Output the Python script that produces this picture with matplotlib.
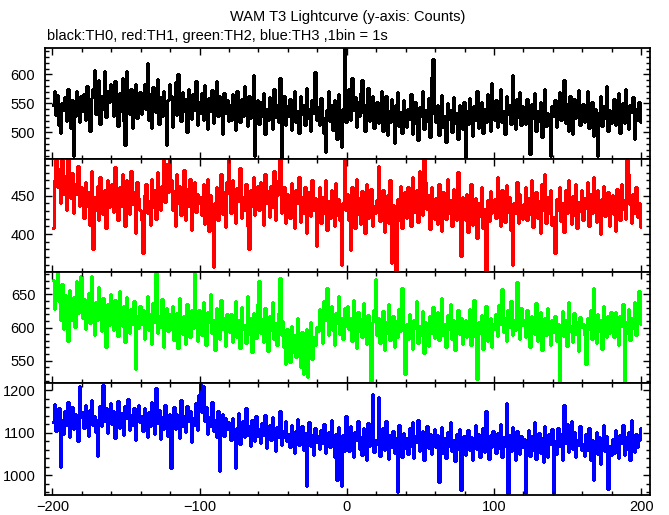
import numpy as np
import matplotlib
matplotlib.use("Agg")
import matplotlib.pyplot as plt
from matplotlib.ticker import MultipleLocator

plt.rcParams['font.family'] = ['Liberation Sans', 'DejaVu Sans']

title = "WAM T3 Lightcurve (y-axis: Counts)"
subtitle = "black:TH0, red:TH1, green:TH2, blue:TH3 ,1bin = 1s"

time_start = -200   # first bin (s)
bin_width = 1       # 1 bin = 1 s

th0 = [
    548, 572, 530, 565, 512, 498, 550, 538, 561, 520, 575, 533, 508, 556, 460, 529, 571, 544, 518, 562,
    537, 566, 521, 580, 545, 503, 559, 574, 607, 532, 548, 590, 515, 562, 540, 605, 527, 571, 553, 584,
    560, 529, 588, 542, 511, 567, 536, 594, 520, 478, 605, 548, 531, 575, 507, 556, 583, 524, 549, 570,
    531, 558, 584, 540, 619, 522, 566, 508, 579, 547, 535, 592, 514, 561, 528, 571, 545, 478, 556, 583,
    562, 509, 548, 586, 530, 600, 541, 519, 570, 536, 557, 501, 575, 544, 523, 566, 538, 589, 512, 553,
    534, 567, 522, 581, 546, 505, 559, 537, 573, 516, 550, 588, 529, 562, 541, 497, 568, 533, 555, 519,
    548, 521, 566, 535, 504, 572, 543, 517, 558, 529, 580, 538, 511, 563, 524, 551, 599, 460, 532, 556,
    515, 553, 529, 568, 497, 540, 522, 561, 534, 506, 575, 527, 548, 518, 593, 457, 539, 563, 512, 546,
    529, 557, 504, 542, 571, 518, 536, 499, 563, 531, 548, 513, 577, 524, 540, 502, 555, 533, 604, 521,
    543, 512, 560, 527, 498, 466, 538, 571, 519, 547, 504, 556, 530, 489, 566, 523, 475, 541, 655, 518,
    548, 575, 522, 594, 539, 561, 510, 553, 528, 567, 590, 534, 502, 549, 576, 519, 545, 563, 508, 537,
    553, 516, 540, 571, 503, 529, 562, 495, 537, 518, 558, 526, 482, 547, 569, 511, 535, 498, 556, 524,
    509, 541, 523, 566, 497, 535, 552, 514, 486, 543, 528, 571, 505, 538, 519, 560, 492, 595, 626, 532,
    518, 547, 496, 532, 565, 510, 528, 484, 551, 523, 539, 500, 561, 516, 533, 489, 548, 527, 506, 553,
    455, 537, 515, 560, 528, 493, 546, 521, 572, 508, 534, 552, 499, 541, 517, 566, 526, 503, 585, 539,
    522, 556, 509, 543, 574, 518, 536, 497, 562, 531, 548, 514, 599, 540, 506, 558, 527, 570, 512, 545,
    541, 515, 557, 530, 462, 549, 524, 568, 503, 536, 519, 553, 492, 540, 575, 511, 533, 521, 460, 546,
    528, 555, 510, 547, 569, 521, 538, 590, 516, 549, 503, 562, 532, 497, 558, 525, 544, 573, 512, 536,
    549, 518, 536, 571, 507, 528, 553, 494, 541, 520, 460, 534, 562, 511, 546, 525, 580, 502, 538, 516,
    533, 558, 512, 541, 567, 498, 529, 550, 516, 574, 526, 505, 547, 535, 561, 489, 540, 522, 553, 518,
]

th1 = [
    408, 470, 497, 462, 485, 440, 497, 452, 476, 431, 498, 459, 447, 480, 428, 466, 452, 489, 437, 461,
    445, 421, 468, 437, 455, 412, 482, 380, 449, 431, 463, 418, 474, 440, 426, 457, 408, 470, 436, 452,
    466, 429, 487, 443, 418, 461, 437, 478, 452, 410, 470, 445, 426, 483, 439, 455, 402, 468, 447, 432,
    418, 375, 451, 466, 428, 443, 412, 472, 436, 457, 420, 481, 445, 431, 463, 497, 442, 492, 455, 498,
    470, 432, 456, 411, 478, 441, 463, 425, 449, 484, 418, 459, 437, 472, 405, 446, 468, 429, 453, 440,
    448, 425, 466, 413, 439, 472, 404, 451, 430, 357, 441, 462, 419, 447, 478, 426, 455, 409, 468, 497,
    452, 427, 471, 438, 415, 460, 443, 486, 421, 449, 432, 466, 410, 380, 458, 437, 474, 425, 446, 463,
    431, 468, 447, 412, 479, 440, 456, 423, 463, 435, 482, 418, 451, 470, 497, 428, 444, 461, 415, 452,
    446, 421, 467, 433, 408, 458, 440, 475, 416, 449, 427, 462, 402, 438, 455, 424, 470, 431, 447, 385,
    438, 462, 414, 449, 427, 471, 405, 443, 421, 458, 433, 410, 467, 425, 446, 419, 360, 440, 497, 431,
    452, 418, 379, 461, 435, 408, 472, 426, 447, 413, 456, 431, 402, 466, 421, 441, 459, 411, 437, 428,
    444, 489, 417, 435, 458, 403, 429, 451, 414, 470, 362, 438, 425, 352, 446, 419, 463, 408, 432, 455,
    421, 462, 437, 411, 475, 446, 429, 458, 416, 483, 440, 425, 499, 468, 433, 451, 407, 462, 438, 420,
    447, 413, 466, 431, 404, 455, 438, 420, 472, 428, 444, 410, 459, 436, 418, 481, 425, 372, 449, 433,
    419, 452, 403, 437, 466, 412, 428, 447, 395, 440, 424, 461, 408, 433, 350, 445, 417, 456, 427, 438,
    446, 421, 475, 433, 410, 458, 437, 416, 464, 429, 449, 405, 360, 441, 427, 468, 414, 452, 433, 420,
    439, 462, 418, 447, 426, 471, 409, 435, 455, 421, 443, 401, 466, 431, 478, 415, 448, 428, 457, 412,
    423, 375, 446, 432, 461, 417, 440, 403, 457, 428, 471, 436, 413, 450, 425, 466, 408, 442, 430, 458,
    419, 447, 434, 468, 410, 452, 428, 475, 439, 416, 458, 431, 400, 446, 463, 424, 441, 455, 411, 437,
    451, 426, 404, 459, 437, 418, 466, 433, 445, 420, 497, 478, 439, 414, 452, 428, 461, 422, 440, 409,
]

th2 = [
    672, 628, 655, 684, 640, 611, 666, 598, 649, 625, 580, 657, 634, 612, 646, 601, 670, 622, 639, 677,
    615, 643, 598, 626, 652, 607, 677, 620, 589, 638, 611, 661, 629, 594, 645, 618, 571, 636, 604, 650,
    624, 596, 641, 612, 587, 655, 619, 603, 633, 578, 646, 611, 592, 628, 606, 640, 538, 617, 599, 632,
    605, 626, 583, 614, 647, 596, 620, 575, 637, 609, 682, 591, 618, 601, 643, 570, 612, 629, 594, 621,
    598, 633, 581, 610, 622, 569, 644, 603, 590, 618, 575, 635, 607, 586, 626, 599, 682, 612, 580, 627,
    616, 589, 638, 601, 574, 623, 608, 650, 592, 611, 566, 629, 604, 583, 641, 597, 615, 572, 620, 606,
    593, 621, 578, 607, 640, 585, 612, 569, 631, 598, 604, 576, 647, 590, 615, 563, 622, 600, 584, 636,
    670, 592, 613, 578, 629, 601, 565, 618, 596, 639, 583, 607, 574, 622, 675, 588, 610, 571, 545, 598,
    576, 548, 602, 563, 589, 555, 614, 571, 540, 593, 530, 580, 597, 525, 568, 609, 552, 586, 574, 601,
    595, 628, 604, 577, 640, 611, 660, 589, 618, 633, 596, 574, 622, 607, 648, 590, 615, 583, 629, 602,
    632, 598, 615, 580, 641, 607, 569, 623, 594, 613, 586, 637, 601, 575, 619, 590, 520, 608, 626, 673,
    589, 614, 577, 603, 625, 566, 608, 592, 635, 581, 599, 617, 570, 610, 586, 628, 594, 660, 603, 530,
    606, 583, 621, 594, 568, 612, 599, 640, 577, 603, 588, 625, 561, 609, 596, 572, 618, 591, 631, 584,
    597, 623, 581, 610, 644, 589, 606, 570, 619, 598, 635, 583, 611, 566, 602, 627, 590, 614, 575, 608,
    612, 585, 603, 628, 574, 595, 641, 586, 522, 609, 592, 619, 568, 601, 633, 580, 597, 614, 571, 605,
    598, 621, 587, 634, 606, 658, 593, 615, 579, 627, 601, 640, 588, 612, 596, 668, 619, 583, 630, 604,
    611, 585, 626, 597, 571, 618, 604, 590, 637, 579, 608, 623, 566, 600, 615, 588, 629, 594, 574, 612,
    593, 617, 580, 606, 520, 598, 625, 587, 611, 572, 639, 595, 603, 578, 622, 590, 608, 565, 616, 601,
    606, 589, 545, 614, 598, 627, 583, 660, 601, 576, 620, 594, 611, 568, 633, 599, 585, 617, 592, 624,
    610, 586, 623, 599, 574, 617, 603, 635, 520, 609, 592, 628, 581, 614, 600, 639, 588, 621, 655, 606,
]

th3 = [
    1125, 1168, 1104, 1142, 1159, 1020, 1131, 1097, 1150, 1118, 1172, 1089, 1136, 1160, 1108, 1145, 1123, 1080, 1210, 1137,
    1148, 1111, 1165, 1129, 1092, 1153, 1176, 1118, 1140, 1101, 1045, 1133, 1162, 1115, 1212, 1127, 1158, 1099, 1144, 1170,
    1121, 1150, 1087, 1139, 1174, 1110, 1146, 1128, 1095, 1163, 1135, 1180, 1106, 1142, 1117, 1158, 1084, 1137, 1166, 1124,
    1140, 1103, 1157, 1125, 1090, 1148, 1116, 1171, 1131, 1098, 1205, 1122, 1154, 1085, 1138, 1109, 1166, 1127, 1093, 1145,
    1017, 1134, 1160, 1108, 1143, 1122, 1088, 1176, 1115, 1139, 1101, 1163, 1128, 1152, 1079, 1135, 1119, 1170, 1106, 1189,
    1214, 1149, 1210, 1127, 1161, 1098, 1138, 1116, 1172, 1104, 1130, 1090, 1152, 1010, 1121, 1144, 1093, 1135, 1109, 1126,
    1118, 1083, 1135, 1097, 1017, 1112, 1146, 1074, 1103, 1127, 1089, 1158, 1095, 1115, 1068, 1131, 1104, 1081, 1140, 1092,
    1109, 1076, 1123, 1094, 1142, 1065, 1101, 1117, 1083, 1136, 1097, 1058, 1114, 1089, 1150, 1072, 1105, 1091, 1128, 1080,
    1098, 1066, 1119, 1087, 1052, 1104, 1133, 1071, 1093, 1115, 1060, 1100, 974, 1082, 1126, 1069, 1095, 1047, 1110, 1078,
    1092, 1061, 1107, 1075, 1120, 1053, 1088, 1102, 1067, 1131, 1079, 1044, 1098, 990, 1113, 1070, 975, 1094, 1058, 1140,
    1096, 1058, 1115, 1072, 1043, 1101, 1083, 1128, 1062, 1090, 1047, 1110, 1076, 1035, 1122, 1068, 1093, 1190, 1055, 1084,
    1073, 1185, 1046, 1098, 1112, 1060, 1127, 1081, 1039, 1094, 1066, 1105, 1052, 1088, 962, 1118, 1071, 1043, 1099, 1064,
    1087, 1051, 1110, 1069, 1124, 1040, 1093, 1078, 1131, 1058, 1085, 1104, 1036, 1072, 1116, 1063, 1097, 1049, 1082, 1108,
    1066, 1095, 985, 1079, 1113, 1052, 1088, 1041, 1102, 1070, 1126, 1057, 1084, 1033, 1097, 1061, 1109, 965, 1075, 1092,
    1048, 1083, 1106, 1059, 1091, 1035, 1074, 1118, 1062, 1098, 1044, 1080, 1112, 1055, 1150, 1071, 1038, 1095, 1067, 1103,
    1077, 1052, 1100, 1064, 1121, 1043, 1089, 1069, 1169, 958, 1095, 1058, 1114, 1072, 1037, 1103, 1081, 1049, 1092, 1066,
    1085, 958, 1071, 1107, 1046, 1093, 1060, 1124, 1039, 1078, 1099, 1053, 1088, 1031, 1115, 1067, 1042, 1096, 1074, 1108,
    958, 1081, 1050, 1112, 1068, 1097, 1035, 1165, 1076, 1120, 1055, 1090, 1128, 1062, 1101, 1044, 1084, 1071, 1116, 1059,
    1073, 1045, 1096, 1060, 1112, 1037, 1082, 988, 1066, 1101, 1050, 1089, 1027, 1075, 1119, 1056, 1093, 968, 1070, 1047,
    1085, 1052, 1107, 1063, 1040, 1094, 1076, 1118, 1048, 1089, 1061, 1102, 1035, 1130, 1070, 1054, 1098, 1067, 1083, 1110,
]

series = [th0, th1, th2, th3]
colors = ["#000000", "#ff0000", "#00ff00", "#0000ff"]
ylims = [(454, 646), (351, 498), (516, 684), (955, 1216)]
major_steps = [50, 50, 50, 100]
minor_steps = [10, 10, 10, 20]
xticks = [-200, -100, 0, 100, 200]

W, H = 669, 515
fig = plt.figure(figsize=(W / 100, H / 100), dpi=100)
left, right = 45 / W, 650 / W
top_px = [47.7, 159.0, 271.7, 383.3, 494.5]

axes = []
for i in range(4):
    y0 = 1 - top_px[i + 1] / H
    h = (top_px[i + 1] - top_px[i]) / H
    ax = fig.add_axes([left, y0, right - left, h])
    vals = np.array(series[i], dtype=float)
    edges = time_start + bin_width * np.arange(len(vals) + 1)
    ax.stairs(vals, edges, color=colors[i], linewidth=1.0, baseline=None,
              antialiased=False)
    ax.set_xlim(-205, 206)
    ax.set_ylim(*ylims[i])
    ax.yaxis.set_major_locator(MultipleLocator(major_steps[i]))
    ax.yaxis.set_minor_locator(MultipleLocator(minor_steps[i]))
    ax.xaxis.set_major_locator(matplotlib.ticker.FixedLocator(xticks))
    ax.xaxis.set_minor_locator(MultipleLocator(20))
    ax.tick_params(which='both', direction='in', top=True, right=True,
                   width=1.0, colors='black', labelsize=10.5)
    ax.tick_params(which='major', length=5)
    ax.tick_params(which='minor', length=3)
    ax.tick_params(axis='y', pad=7)
    ax.tick_params(axis='x', pad=4)
    for s in ax.spines.values():
        s.set_linewidth(1.3)
        s.set_zorder(5)
    if i < 3:
        ax.tick_params(labelbottom=False)
    axes.append(ax)

for ax in axes:
    lo, hi = ax.get_ylim()
    ax.set_yticks([t for t in ax.get_yticks() if lo <= t <= hi])

fig.text((left + right) / 2, 1 - 17 / H, title, ha='center', va='center', fontsize=10.5)
fig.text(47 / W, 1 - 36 / H, subtitle, ha='left', va='center', fontsize=10.5)

fig.savefig("out.png", dpi=100, facecolor='white')
